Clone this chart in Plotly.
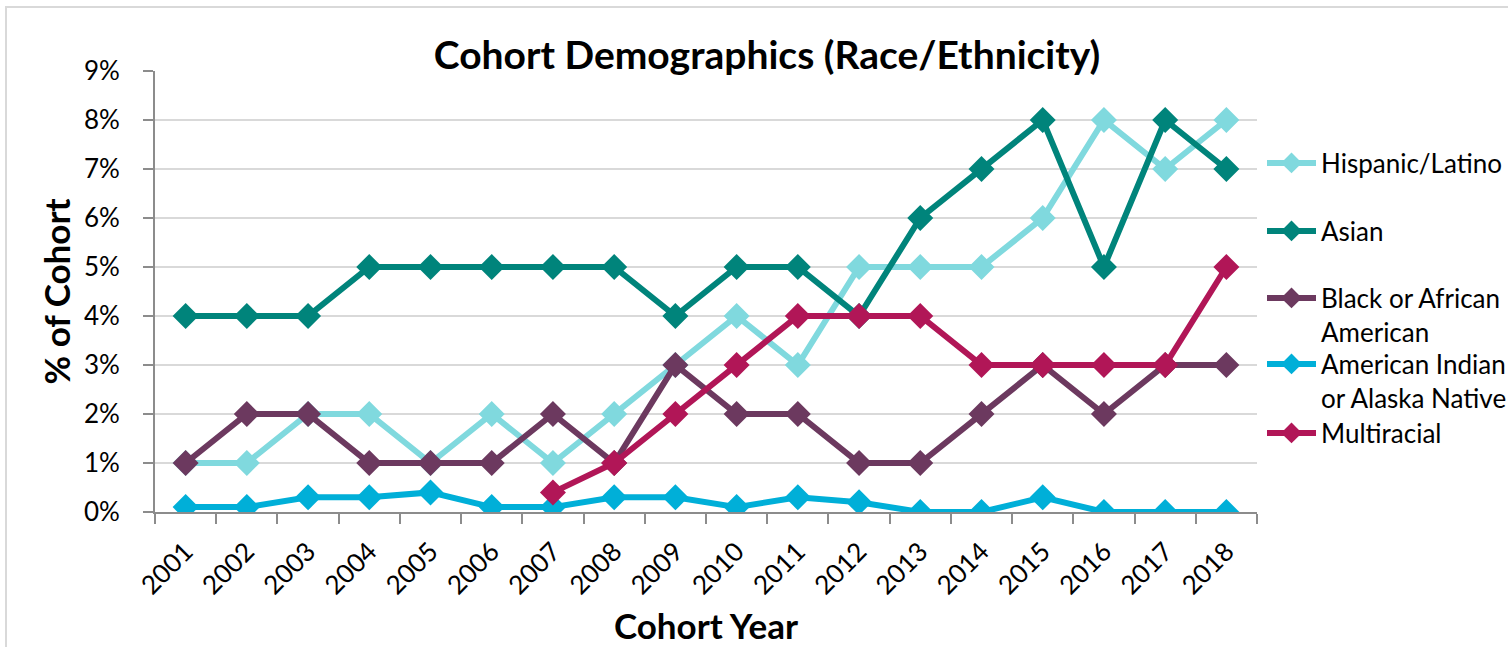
import plotly.graph_objects as go

years = [str(y) for y in range(2001, 2019)]
hispanic = [1, 1, 2, 2, 1, 2, 1, 2, 3, 4, 3, 5, 5, 5, 6, 8, 7, 8]
asian = [4, 4, 4, 5, 5, 5, 5, 5, 4, 5, 5, 4, 6, 7, 8, 5, 8, 7]
black = [1, 2, 2, 1, 1, 1, 2, 1, 3, 2, 2, 1, 1, 2, 3, 2, 3, 3]
am_indian = [0.1, 0.1, 0.3, 0.3, 0.4, 0.1, 0.1, 0.3, 0.3, 0.1, 0.3, 0.2, 0, 0, 0.3, 0, 0, 0]
multiracial = [None, None, None, None, None, None, 0.4, 1, 2, 3, 4, 4, 4, 3, 3, 3, 3, 5]
y_ticks = list(range(0, 10))
y_labels = [f"{v}%" for v in y_ticks]

series = [
    ("Hispanic/Latino", hispanic, "#80d9de", "legend"),
    ("Asian", asian, "#00847b", "legend2"),
    ("Black or African<br>American", black, "#6c395f", "legend3"),
    ("American Indian<br>or Alaska Native", am_indian, "#00afd8", "legend4"),
    ("Multiracial", multiracial, "#b11657", "legend5"),
]

FONT = "Lato, Carlito, Calibri, sans-serif"

fig = go.Figure()
for name, vals, color, lg in series:
    fig.add_trace(go.Scatter(
        x=years, y=vals, name=name, mode="lines+markers",
        line=dict(color=color, width=6),
        marker=dict(symbol="diamond", size=20, color=color),
        legend=lg, connectgaps=False,
    ))

W, H = 1508, 647
L, R, T, B = 155, 251, 71, 135
pw, ph = W - L - R, H - T - B

def px_x(p):
    return (p - L) / pw

def px_y(p):
    return (H - B - p) / ph

leg_common = dict(xanchor="left", yanchor="middle", bgcolor="rgba(0,0,0,0)",
                  font=dict(family=FONT, size=26, color="#000000"),
                  itemwidth=49, tracegroupgap=0, valign="top")
legend_y = [163, 231, 315, 381, 433]
layout_legends = {}
for i, yy in enumerate(legend_y):
    key = "legend" if i == 0 else f"legend{i+1}"
    layout_legends[key] = dict(leg_common, x=px_x(1262), y=px_y(yy))

fig.update_layout(
    width=W, height=H,
    margin=dict(l=L, r=R, t=T, b=B, autoexpand=False),
    paper_bgcolor="white", plot_bgcolor="white",
    font=dict(family=FONT, size=26, color="#000000"),
    showlegend=True,
    title=dict(text="<b>Cohort Demographics (Race/Ethnicity)</b>",
               x=767 / W, xanchor="center", xref="container",
               y=1 - 55 / H, yanchor="middle",
               font=dict(family=FONT, size=39, color="#000000")),
    xaxis=dict(
        type="category", categoryorder="array", categoryarray=years,
        range=[-0.5, len(years) - 0.5],
        tickson="boundaries", ticks="outside", ticklen=10, tickwidth=2, tickcolor="#8c8c8c",
        showline=True, linecolor="#8c8c8c", linewidth=2,
        showgrid=False, tickangle=-45,
        tickfont=dict(family=FONT, size=26),
        ticklabelstandoff=12,
        title=dict(text="<b>Cohort Year</b>", font=dict(family=FONT, size=35), standoff=15),
        zeroline=False,
    ),
    yaxis=dict(
        range=[0, 9], tickmode="array", tickvals=y_ticks, ticktext=y_labels,
        ticks="outside", ticklen=10, tickwidth=2, tickcolor="#8c8c8c",
        showline=True, linecolor="#8c8c8c", linewidth=2,
        showgrid=True, gridcolor="#d9d9d9", gridwidth=2,
        tickfont=dict(family=FONT, size=26),
        ticklabelstandoff=18,
        title=dict(text="<b>% of Cohort</b>", font=dict(family=FONT, size=35), standoff=3),
        zeroline=False,
    ),
    **layout_legends,
)

# chart area border
fig.add_shape(type="rect", xref="paper", yref="paper",
              x0=px_x(6), x1=px_x(1520), y0=px_y(660), y1=px_y(7),
              line=dict(color="#d9d9d9", width=2), fillcolor="rgba(0,0,0,0)", layer="below")

fig.write_html("out.html", config={"displayModeBar": False},
               post_script="document.body.style.margin='0px';")
